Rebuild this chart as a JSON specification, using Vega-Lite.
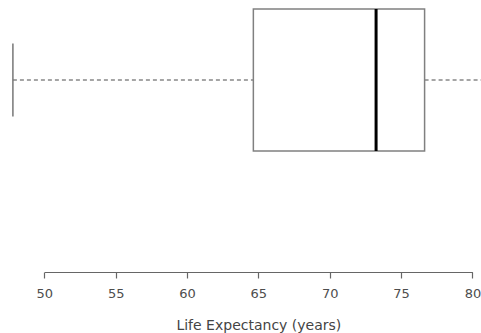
{
  "$schema": "https://vega.github.io/schema/vega-lite/v6.json",
  "width": 481,
  "height": 272,
  "autosize": "none",
  "padding": {"left": 0, "top": 0, "right": 0, "bottom": 61},
  "background": "white",
  "config": {"view": {"stroke": null}},
  "data": {"values": [{"group": "Life Expectancy", "min": 47.8, "q1": 64.65, "median": 73.25, "q3": 76.65, "max": 82.5}]},
  "encoding": {
    "y": {"field": "group", "type": "nominal", "axis": null, "scale": {"type": "band", "range": [0, 160], "paddingInner": 0, "paddingOuter": 0}}
  },
  "layer": [
    {
      "mark": {"type": "rule", "color": "#888888", "strokeWidth": 1.3, "strokeDash": [4, 3], "clip": true, "opacity": 1},
      "encoding": {
        "x": {"field": "min", "type": "quantitative", "scale": {"domain": [50, 80], "range": [44.3, 472.4], "nice": false, "zero": false},
          "title": "Life Expectancy (years)",
          "axis": {"values": [50, 55, 60, 65, 70, 75, 80], "grid": false, "domainColor": "#666666", "domainWidth": 1.2, "tickColor": "#666666", "tickWidth": 1.2, "tickSize": 6, "labelPadding": 9, "labelFont": "DejaVu Sans", "labelFontSize": 13, "labelColor": "#4d4d4d", "labelFlush": false, "titleFont": "DejaVu Sans", "titleFontSize": 14, "titleFontWeight": "normal", "titleColor": "#444444", "titleY": 57.5, "titleBaseline": "alphabetic"}},
        "x2": {"field": "q1"}
      }
    },
    {
      "mark": {"type": "rule", "color": "#888888", "strokeWidth": 1.3, "strokeDash": [4, 3], "clip": true, "opacity": 1},
      "encoding": {"x": {"field": "q3", "type": "quantitative"}, "x2": {"field": "max"}}
    },
    {
      "mark": {"type": "tick", "color": "#777777", "size": 73, "thickness": 1.5, "clip": true, "opacity": 1},
      "encoding": {"x": {"field": "min", "type": "quantitative"}}
    },
    {
      "mark": {"type": "tick", "color": "#777777", "size": 73, "thickness": 1.5, "clip": true, "opacity": 1},
      "encoding": {"x": {"field": "max", "type": "quantitative"}}
    },
    {
      "mark": {"type": "bar", "fill": "white", "stroke": "#808080", "strokeWidth": 1.5, "size": 142, "opacity": 1},
      "encoding": {"x": {"field": "q1", "type": "quantitative"}, "x2": {"field": "q3"}}
    },
    {
      "mark": {"type": "tick", "color": "#000000", "size": 142, "thickness": 3, "opacity": 1},
      "encoding": {"x": {"field": "median", "type": "quantitative"}}
    }
  ]
}
